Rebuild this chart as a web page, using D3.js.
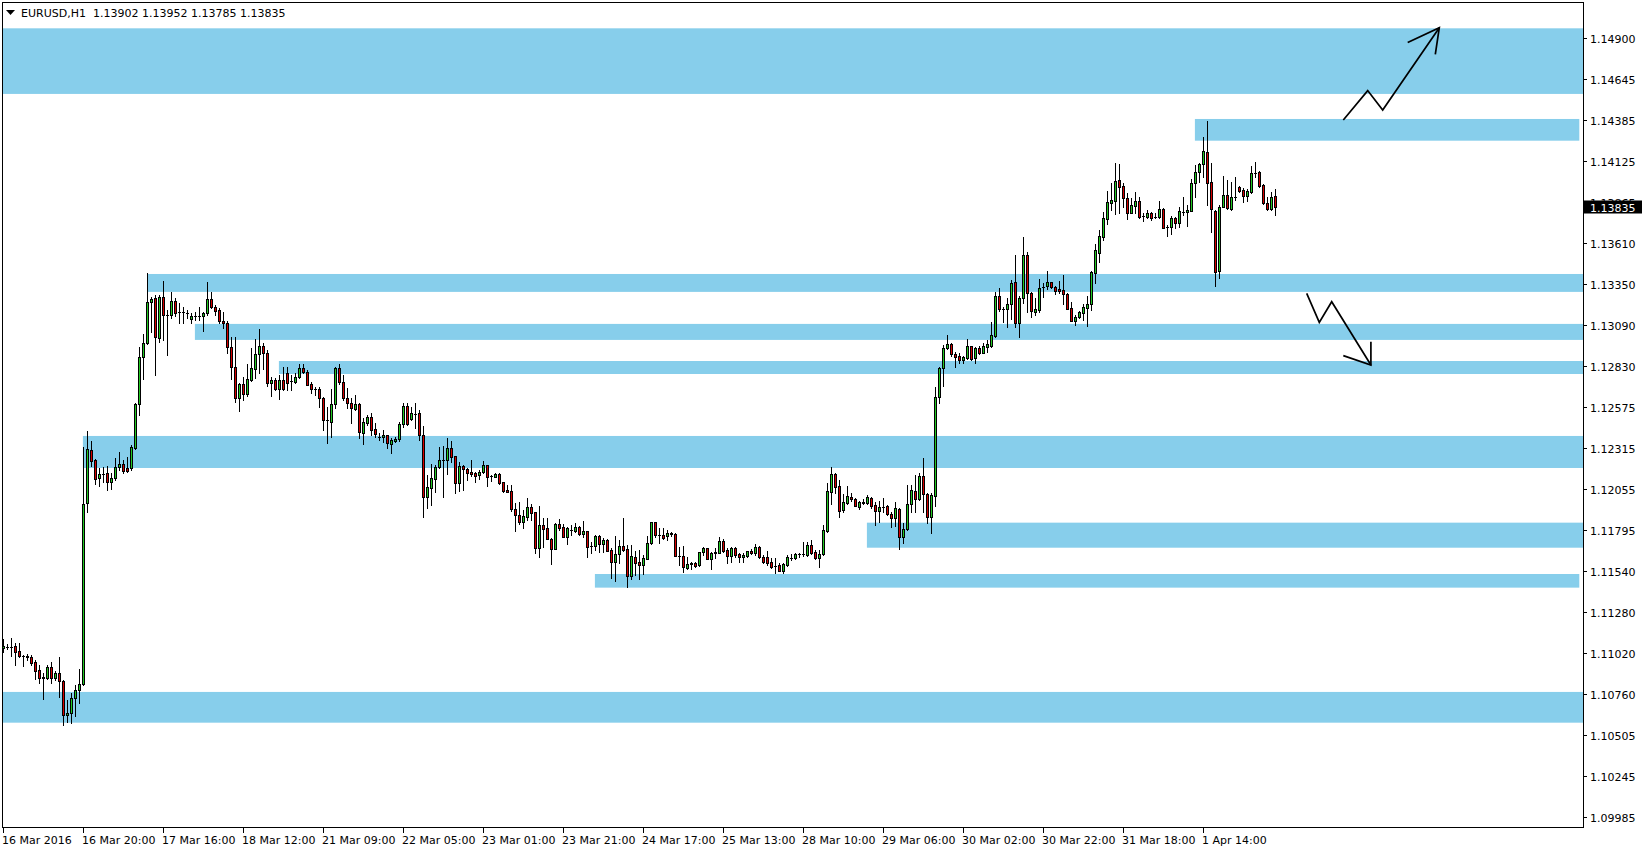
<!DOCTYPE html>
<html>
<head>
<meta charset="utf-8">
<script src="https://cdnjs.cloudflare.com/ajax/libs/d3/7.8.5/d3.min.js"></script>
<style>
  body { margin: 0; background: #ffffff; }
  svg text { font-family: "DejaVu Sans", sans-serif; font-size: 11px; }
</style>
</head>
<body>
<div id="chart"></div>
<script>
// EURUSD H1, 16 Mar - 1 Apr 2016, one entry per hourly bar
var symbol = "EURUSD,H1";

var opens = [
  1.11051,1.11062,1.11062,1.11066,1.11034,1.11005,1.11005,1.10998,1.10963,1.10914,
  1.10870,1.10866,1.10935,1.10866,1.10893,1.10845,1.10628,1.10641,1.10736,1.10788,
  1.10826,1.11966,1.12303,1.12239,1.12124,1.12151,1.12155,1.12098,1.12124,1.12197,
  1.12212,1.12187,1.12187,1.12317,1.12591,1.12887,1.12976,1.13234,1.13260,1.13007,
  1.13270,1.13152,1.13152,1.13245,1.13175,1.13175,1.13169,1.13131,1.13148,1.13148,
  1.13148,1.13165,1.13253,1.13203,1.13186,1.13116,1.13102,1.12950,1.12824,1.12629,
  1.12717,1.12654,1.12746,1.12811,1.12906,1.12961,1.12912,1.12723,1.12742,1.12685,
  1.12742,1.12786,1.12738,1.12734,1.12761,1.12818,1.12797,1.12717,1.12685,1.12685,
  1.12633,1.12492,1.12481,1.12591,1.12818,1.12729,1.12629,1.12597,1.12563,1.12591,
  1.12412,1.12475,1.12509,1.12433,1.12387,1.12382,1.12395,1.12340,1.12361,1.12370,
  1.12467,1.12582,1.12498,1.12530,1.12534,1.12397,1.12008,1.12061,1.12117,1.12193,
  1.12239,1.12239,1.12313,1.12262,1.12092,1.12202,1.12183,1.12162,1.12155,1.12147,
  1.12162,1.12206,1.12138,1.12134,1.12149,1.12101,1.12050,1.12044,1.11930,1.11892,
  1.11850,1.11882,1.11941,1.11909,1.11686,1.11829,1.11808,1.11743,1.11680,1.11833,
  1.11815,1.11756,1.11798,1.11793,1.11815,1.11770,1.11791,1.11699,1.11699,1.11760,
  1.11707,1.11735,1.11671,1.11598,1.11644,1.11697,1.11676,1.11510,1.11625,1.11596,
  1.11579,1.11617,1.11714,1.11846,1.11764,1.11764,1.11762,1.11772,1.11772,1.11636,
  1.11636,1.11560,1.11581,1.11589,1.11575,1.11659,1.11682,1.11617,1.11650,1.11655,
  1.11726,1.11671,1.11636,1.11684,1.11646,1.11625,1.11634,1.11665,1.11650,1.11688,
  1.11629,1.11625,1.11594,1.11573,1.11577,1.11541,1.11577,1.11623,1.11619,1.11646,
  1.11646,1.11640,1.11701,1.11659,1.11619,1.11644,1.11794,1.12035,1.12149,1.12075,
  1.11924,1.11970,1.12006,1.11991,1.11941,1.11966,1.11966,1.12002,1.11955,1.11920,
  1.11945,1.11949,1.11901,1.11871,1.11928,1.11756,1.11802,1.11960,1.12044,1.11995,
  1.12138,1.12023,1.11878,1.12014,1.12639,1.12818,1.12944,1.12969,1.12906,1.12896,
  1.12870,1.12881,1.12957,1.12881,1.12946,1.12917,1.12955,1.12961,1.13024,1.13274,
  1.13194,1.13192,1.13222,1.13363,1.13106,1.13260,1.13533,1.13293,1.13175,1.13186,
  1.13333,1.13339,1.13363,1.13331,1.13316,1.13310,1.13287,1.13196,1.13119,1.13140,
  1.13165,1.13201,1.13222,1.13421,1.13548,1.13649,1.13760,1.13859,1.13876,1.14006,
  1.13968,1.13891,1.13800,1.13844,1.13874,1.13781,1.13775,1.13796,1.13775,1.13775,
  1.13821,1.13712,1.13712,1.13764,1.13733,1.13806,1.13802,1.13813,1.13989,1.14059,
  1.14105,1.14181,1.13992,1.13811,1.13434,1.13838,1.13912,1.13823,1.13897,1.13960,
  1.13943,1.13907,1.13933,1.14052,1.14055,1.13972,1.13859,1.13821,1.13902
];

var highs = [
  1.11108,1.11076,1.11114,1.11083,1.11087,1.11009,1.11013,1.11009,1.10977,1.10946,
  1.10893,1.10946,1.10967,1.10910,1.10994,1.10851,1.10725,1.10767,1.10820,1.10921,
  1.12324,1.12422,1.12359,1.12244,1.12187,1.12197,1.12202,1.12155,1.12250,1.12292,
  1.12239,1.12260,1.12334,1.12597,1.12955,1.13034,1.13417,1.13270,1.13280,1.13280,
  1.13369,1.13186,1.13302,1.13260,1.13228,1.13203,1.13186,1.13169,1.13175,1.13203,
  1.13175,1.13363,1.13300,1.13217,1.13196,1.13175,1.13119,1.13013,1.13013,1.12723,
  1.12765,1.12845,1.12944,1.13001,1.13064,1.12976,1.12934,1.12765,1.12755,1.12776,
  1.12828,1.12824,1.12776,1.12786,1.12843,1.12843,1.12807,1.12734,1.12698,1.12698,
  1.12639,1.12576,1.12685,1.12828,1.12845,1.12776,1.12692,1.12629,1.12650,1.12597,
  1.12502,1.12523,1.12534,1.12471,1.12408,1.12429,1.12397,1.12376,1.12387,1.12477,
  1.12597,1.12597,1.12576,1.12597,1.12555,1.12454,1.12145,1.12214,1.12208,1.12324,
  1.12328,1.12376,1.12359,1.12267,1.12225,1.12208,1.12187,1.12239,1.12166,1.12176,
  1.12233,1.12208,1.12145,1.12160,1.12155,1.12103,1.12082,1.12082,1.11966,1.11976,
  1.11924,1.11997,1.11962,1.11913,1.11949,1.11871,1.11871,1.11745,1.11840,1.11865,
  1.11836,1.11819,1.11829,1.11844,1.11823,1.11855,1.11794,1.11724,1.11766,1.11766,
  1.11745,1.11739,1.11682,1.11760,1.11735,1.11871,1.11703,1.11703,1.11667,1.11672,
  1.11640,1.11760,1.11850,1.11850,1.11808,1.11808,1.11798,1.11787,1.11777,1.11693,
  1.11699,1.11629,1.11596,1.11598,1.11661,1.11693,1.11686,1.11661,1.11682,1.11756,
  1.11739,1.11684,1.11693,1.11693,1.11655,1.11655,1.11667,1.11680,1.11709,1.11697,
  1.11640,1.11667,1.11619,1.11619,1.11592,1.11587,1.11640,1.11646,1.11655,1.11655,
  1.11720,1.11724,1.11735,1.11672,1.11672,1.11829,1.12092,1.12193,1.12159,1.12113,
  1.12023,1.12075,1.12029,1.11998,1.11983,1.11991,1.12016,1.12008,1.11976,1.11983,
  1.11998,1.11955,1.11913,1.11976,1.11934,1.11840,1.12082,1.12082,1.12145,1.12155,
  1.12250,1.12029,1.12029,1.12702,1.12828,1.12965,1.13028,1.12975,1.12923,1.12912,
  1.12896,1.13003,1.12961,1.12950,1.12961,1.12975,1.12997,1.13112,1.13300,1.13323,
  1.13207,1.13260,1.13375,1.13533,1.13274,1.13649,1.13550,1.13302,1.13260,1.13379,
  1.13354,1.13430,1.13365,1.13339,1.13369,1.13407,1.13291,1.13238,1.13154,1.13177,
  1.13224,1.13274,1.13434,1.13602,1.13691,1.13806,1.13939,1.13985,1.14111,1.14107,
  1.13985,1.13926,1.13891,1.13933,1.13901,1.13796,1.13817,1.13806,1.13796,1.13874,
  1.13827,1.13722,1.13779,1.13775,1.13838,1.13901,1.13848,1.14010,1.14101,1.14111,
  1.14280,1.14378,1.14111,1.13817,1.13848,1.14031,1.14006,1.13996,1.14027,1.13968,
  1.13954,1.13947,1.14095,1.14120,1.14063,1.13981,1.13897,1.13931,1.13952
];

var lows = [
  1.11030,1.11047,1.11003,1.10946,1.10998,1.10940,1.10977,1.10946,1.10855,1.10830,
  1.10734,1.10855,1.10830,1.10851,1.10746,1.10569,1.10588,1.10578,1.10624,1.10704,
  1.10820,1.11913,1.12202,1.12088,1.12075,1.12103,1.12050,1.12054,1.12113,1.12176,
  1.12155,1.12166,1.12176,1.12307,1.12523,1.12753,1.12971,1.13049,1.12776,1.12986,
  1.12997,1.12902,1.13138,1.13148,1.13102,1.13106,1.13133,1.13102,1.13123,1.13123,
  1.13056,1.13154,1.13196,1.13154,1.13102,1.13070,1.12912,1.12748,1.12607,1.12551,
  1.12618,1.12643,1.12740,1.12755,1.12790,1.12811,1.12706,1.12645,1.12681,1.12622,
  1.12681,1.12681,1.12681,1.12727,1.12755,1.12790,1.12713,1.12664,1.12650,1.12572,
  1.12429,1.12345,1.12387,1.12565,1.12717,1.12618,1.12565,1.12471,1.12555,1.12376,
  1.12338,1.12460,1.12397,1.12387,1.12366,1.12355,1.12317,1.12286,1.12355,1.12361,
  1.12450,1.12460,1.12492,1.12439,1.12366,1.11878,1.11934,1.11955,1.12040,1.12187,
  1.12008,1.12151,1.12229,1.12033,1.12046,1.12050,1.12113,1.12138,1.12103,1.12117,
  1.12155,1.12075,1.12109,1.12130,1.12088,1.12040,1.12040,1.11920,1.11793,1.11836,
  1.11808,1.11861,1.11861,1.11650,1.11625,1.11693,1.11739,1.11583,1.11678,1.11798,
  1.11751,1.11709,1.11766,1.11787,1.11766,1.11756,1.11625,1.11655,1.11672,1.11661,
  1.11661,1.11665,1.11493,1.11478,1.11592,1.11667,1.11436,1.11486,1.11514,1.11489,
  1.11520,1.11613,1.11709,1.11756,1.11714,1.11743,1.11735,1.11762,1.11634,1.11577,
  1.11533,1.11550,1.11554,1.11566,1.11573,1.11640,1.11613,1.11550,1.11623,1.11650,
  1.11661,1.11592,1.11598,1.11629,1.11594,1.11598,1.11629,1.11646,1.11640,1.11619,
  1.11592,1.11577,1.11556,1.11524,1.11537,1.11524,1.11571,1.11608,1.11613,1.11629,
  1.11634,1.11634,1.11646,1.11615,1.11566,1.11640,1.11787,1.11962,1.12033,1.11882,
  1.11913,1.11962,1.11983,1.11949,1.11928,1.11962,1.11962,1.11934,1.11829,1.11850,
  1.11913,1.11892,1.11819,1.11823,1.11680,1.11714,1.11798,1.11913,1.11913,1.11987,
  1.11913,1.11844,1.11781,1.11949,1.12597,1.12706,1.12938,1.12898,1.12828,1.12849,
  1.12849,1.12875,1.12870,1.12854,1.12908,1.12912,1.12923,1.12955,1.13018,1.13182,
  1.13112,1.13081,1.13127,1.13081,1.13018,1.13232,1.13175,1.13144,1.13152,1.13173,
  1.13270,1.13316,1.13323,1.13285,1.13295,1.13224,1.13190,1.13117,1.13091,1.13133,
  1.13123,1.13087,1.13186,1.13358,1.13491,1.13628,1.13729,1.13817,1.13792,1.13796,
  1.13838,1.13760,1.13796,1.13800,1.13764,1.13750,1.13764,1.13754,1.13764,1.13764,
  1.13701,1.13653,1.13665,1.13705,1.13712,1.13785,1.13716,1.13811,1.13901,1.13996,
  1.14027,1.13848,1.13680,1.13339,1.13386,1.13834,1.13823,1.13817,1.13880,1.13933,
  1.13869,1.13876,1.13926,1.14027,1.13964,1.13855,1.13817,1.13817,1.13785
];

var closes = [
  1.11066,1.11062,1.11062,1.11030,1.11003,1.11005,1.10994,1.10956,1.10910,1.10862,
  1.10862,1.10935,1.10866,1.10893,1.10845,1.10628,1.10641,1.10736,1.10788,1.10826,
  1.11960,1.12307,1.12233,1.12117,1.12149,1.12151,1.12098,1.12124,1.12197,1.12212,
  1.12172,1.12172,1.12324,1.12591,1.12887,1.12980,1.13234,1.13257,1.13013,1.13270,
  1.13152,1.13152,1.13245,1.13169,1.13175,1.13175,1.13169,1.13148,1.13148,1.13148,
  1.13165,1.13253,1.13203,1.13182,1.13119,1.13102,1.12950,1.12824,1.12629,1.12717,
  1.12654,1.12750,1.12818,1.12906,1.12961,1.12917,1.12723,1.12742,1.12685,1.12742,
  1.12690,1.12727,1.12738,1.12765,1.12818,1.12797,1.12713,1.12685,1.12685,1.12633,
  1.12492,1.12492,1.12591,1.12822,1.12734,1.12629,1.12601,1.12565,1.12591,1.12418,
  1.12477,1.12509,1.12429,1.12401,1.12387,1.12397,1.12345,1.12366,1.12370,1.12467,
  1.12582,1.12467,1.12534,1.12530,1.12397,1.12008,1.12067,1.12124,1.12193,1.12239,
  1.12239,1.12313,1.12260,1.12092,1.12202,1.12181,1.12155,1.12149,1.12141,1.12162,
  1.12208,1.12134,1.12138,1.12149,1.12096,1.12046,1.12040,1.11928,1.11892,1.11850,
  1.11886,1.11941,1.11907,1.11686,1.11829,1.11804,1.11741,1.11680,1.11833,1.11812,
  1.11756,1.11808,1.11798,1.11815,1.11770,1.11791,1.11693,1.11699,1.11760,1.11707,
  1.11735,1.11667,1.11598,1.11646,1.11697,1.11672,1.11510,1.11634,1.11592,1.11579,
  1.11619,1.11714,1.11846,1.11764,1.11764,1.11749,1.11777,1.11777,1.11636,1.11636,
  1.11566,1.11581,1.11587,1.11571,1.11659,1.11682,1.11617,1.11653,1.11657,1.11726,
  1.11667,1.11636,1.11684,1.11640,1.11625,1.11640,1.11663,1.11650,1.11693,1.11625,
  1.11596,1.11592,1.11566,1.11573,1.11541,1.11581,1.11625,1.11623,1.11646,1.11646,
  1.11646,1.11701,1.11655,1.11619,1.11646,1.11796,1.12044,1.12149,1.12071,1.11920,
  1.11972,1.12012,1.11991,1.11951,1.11972,1.11976,1.12006,1.11951,1.11920,1.11943,
  1.11945,1.11899,1.11871,1.11934,1.11756,1.11802,1.11960,1.12050,1.11995,1.12138,
  1.12023,1.11882,1.12019,1.12635,1.12818,1.12944,1.12971,1.12906,1.12891,1.12870,
  1.12889,1.12957,1.12879,1.12944,1.12917,1.12959,1.12971,1.13028,1.13274,1.13190,
  1.13194,1.13222,1.13358,1.13106,1.13260,1.13533,1.13291,1.13182,1.13192,1.13323,
  1.13333,1.13360,1.13329,1.13308,1.13308,1.13285,1.13194,1.13119,1.13140,1.13173,
  1.13203,1.13224,1.13424,1.13565,1.13653,1.13764,1.13865,1.13880,1.14000,1.13964,
  1.13891,1.13800,1.13848,1.13874,1.13775,1.13781,1.13796,1.13769,1.13775,1.13821,
  1.13705,1.13712,1.13764,1.13733,1.13811,1.13806,1.13817,1.13985,1.14059,1.14105,
  1.14189,1.13989,1.13821,1.13428,1.13838,1.13912,1.13827,1.13897,1.13897,1.13939,
  1.13907,1.13937,1.14048,1.14052,1.13970,1.13859,1.13821,1.13897,1.13835
];

// time axis: label text and the bar it sits on
var timeLabels = ["16 Mar 2016", "16 Mar 20:00", "17 Mar 16:00", "18 Mar 12:00", "21 Mar 09:00",
  "22 Mar 05:00", "23 Mar 01:00", "23 Mar 21:00", "24 Mar 17:00", "25 Mar 13:00", "28 Mar 10:00",
  "29 Mar 06:00", "30 Mar 02:00", "30 Mar 22:00", "31 Mar 18:00", "1 Apr 14:00"];
var timeLabelBars = [0, 20, 40, 60, 80, 100, 120, 140, 160, 180, 200, 220, 240, 260, 280, 300];

// price scale ticks
var priceTicks = [1.14900, 1.14645, 1.14385, 1.14125, 1.13865, 1.13610, 1.13350, 1.13090, 1.12830,
  1.12575, 1.12315, 1.12055, 1.11795, 1.11540, 1.11280, 1.11020, 1.10760, 1.10505, 1.10245, 1.09985];

// supply / demand zones (bar index from..to, price high..low)
var zoneFrom = [-0.2, 297.9, 36.1, 47.9, 68.9, 19.9, 215.9, 147.9, -0.2];
var zoneTo   = [395, 394, 395, 395, 395, 395, 395, 394, 395];
var zoneHigh = [1.14963, 1.14391, 1.13413, 1.13098, 1.12864, 1.12391, 1.11844, 1.11520, 1.10776];
var zoneLow  = [1.14549, 1.14254, 1.13300, 1.12997, 1.12782, 1.12189, 1.11686, 1.11434, 1.10582];

// hand drawn scenario arrows
var upArrowBars   = [335.0, 341.1, 344.85, 359.0];
var upArrowPrices = [1.14385, 1.14570, 1.14448, 1.14967];
var upHeadBars    = [351.1, 359.0, 358.0];
var upHeadPrices  = [1.14873, 1.14967, 1.14799];
var downArrowBars   = [325.85, 329.0, 332.1, 341.9];
var downArrowPrices = [1.13291, 1.13108, 1.13238, 1.12839];
var downHeadBars    = [335.0, 341.9, 341.9];
var downHeadPrices  = [1.12898, 1.12839, 1.12986];

var w = 1643, h = 852;
var bullColor = "#22c822", bearColor = "#d40000", zoneColor = "#87ceeb";

var svg = d3.select("#chart")
  .append("svg")
  .attr("width", w)
  .attr("height", h)
  .style("display", "block");

var x = d3.scaleLinear().domain([0, 395]).range([3.3, 1583.3]);
var y = d3.scaleLinear().domain([1.09985, 1.14900]).range([817.3, 38.3]);

function col(i) { return Math.floor(x(i)); }
function row(p) { return Math.round(y(p)); }

var bars = d3.range(opens.length).map(function (i) {
  return { i: i, o: opens[i], h: highs[i], l: lows[i], c: closes[i] };
});

// zones
svg.append("g")
  .selectAll("rect")
  .data(d3.range(zoneFrom.length))
  .join("rect")
  .attr("x", function (k) { return x(zoneFrom[k]); })
  .attr("width", function (k) { return x(zoneTo[k]) - x(zoneFrom[k]); })
  .attr("y", function (k) { return y(zoneHigh[k]); })
  .attr("height", function (k) { return y(zoneLow[k]) - y(zoneHigh[k]); })
  .attr("fill", zoneColor);

// candles
var candles = svg.append("g").attr("shape-rendering", "crispEdges");

candles.selectAll("line.wick")
  .data(bars)
  .join("line")
  .attr("class", "wick")
  .attr("x1", function (d) { return col(d.i) + 0.5; })
  .attr("x2", function (d) { return col(d.i) + 0.5; })
  .attr("y1", function (d) { return row(d.h); })
  .attr("y2", function (d) { return row(d.l) + 1; })
  .attr("stroke", "#000")
  .attr("stroke-width", 1);

candles.selectAll("rect.body")
  .data(bars.filter(function (d) { return row(Math.min(d.o, d.c)) - row(Math.max(d.o, d.c)) >= 1; }))
  .join("rect")
  .attr("class", "body")
  .attr("x", function (d) { return col(d.i) - 0.5; })
  .attr("y", function (d) { return row(Math.max(d.o, d.c)) + 0.5; })
  .attr("width", 2)
  .attr("height", function (d) { return row(Math.min(d.o, d.c)) - row(Math.max(d.o, d.c)); })
  .attr("fill", function (d) { return d.c >= d.o ? bullColor : bearColor; })
  .attr("stroke", "#000")
  .attr("stroke-width", 1);

candles.selectAll("line.doji")
  .data(bars.filter(function (d) { return row(Math.min(d.o, d.c)) - row(Math.max(d.o, d.c)) < 1; }))
  .join("line")
  .attr("class", "doji")
  .attr("x1", function (d) { return col(d.i) - 1; })
  .attr("x2", function (d) { return col(d.i) + 2; })
  .attr("y1", function (d) { return row(d.o) + 0.5; })
  .attr("y2", function (d) { return row(d.o) + 0.5; })
  .attr("stroke", "#000")
  .attr("stroke-width", 1);

// arrows
var arrowLine = d3.line()
  .x(function (d) { return x(d[0]); })
  .y(function (d) { return y(d[1]); });

var arrows = [
  d3.zip(upArrowBars, upArrowPrices),
  d3.zip(upHeadBars, upHeadPrices),
  d3.zip(downArrowBars, downArrowPrices),
  d3.zip(downHeadBars, downHeadPrices)
];

svg.append("g")
  .selectAll("path")
  .data(arrows)
  .join("path")
  .attr("d", arrowLine)
  .attr("fill", "none")
  .attr("stroke", "#000")
  .attr("stroke-width", 1.7)
  .attr("stroke-linejoin", "miter");

// frame
var frame = svg.append("g").attr("shape-rendering", "crispEdges");
frame.append("rect")
  .attr("x", 2.5)
  .attr("y", 2.5)
  .attr("width", x(395) - 2.5 + 0.2)
  .attr("height", 825)
  .attr("fill", "none")
  .attr("stroke", "#000");

// price axis
var axisX = Math.round(x(395));
var pAxis = svg.append("g");
pAxis.selectAll("line")
  .data(priceTicks)
  .join("line")
  .attr("shape-rendering", "crispEdges")
  .attr("x1", axisX)
  .attr("x2", axisX + 4)
  .attr("y1", function (d) { return row(d) + 0.5; })
  .attr("y2", function (d) { return row(d) + 0.5; })
  .attr("stroke", "#000");

pAxis.selectAll("text")
  .data(priceTicks)
  .join("text")
  .attr("x", axisX + 7)
  .attr("y", function (d) { return row(d) + 5; })
  .attr("fill", "#000")
  .text(function (d) { return d.toFixed(5); });

// current price marker (covers the tick label under it, as in the terminal)
var last = closes[closes.length - 1];
svg.append("rect")
  .attr("x", axisX + 1)
  .attr("y", row(last) - 6.5)
  .attr("width", 58)
  .attr("height", 13)
  .attr("fill", "#000");
svg.append("text")
  .attr("x", axisX + 7)
  .attr("y", row(last) + 4.5)
  .attr("fill", "#fff")
  .text(last.toFixed(5));

// time axis
var tAxis = svg.append("g");
tAxis.selectAll("line")
  .data(timeLabelBars)
  .join("line")
  .attr("shape-rendering", "crispEdges")
  .attr("x1", function (d) { return col(d) + 0.5; })
  .attr("x2", function (d) { return col(d) + 0.5; })
  .attr("y1", 828)
  .attr("y2", 833)
  .attr("stroke", "#000");

tAxis.selectAll("text")
  .data(timeLabelBars)
  .join("text")
  .attr("x", function (d) { return col(d) - 1; })
  .attr("y", 844)
  .attr("fill", "#000")
  .text(function (d, k) { return timeLabels[k]; });

// header
var n = opens.length - 1;
svg.append("path")
  .attr("d", "M6,10 L15,10 L10.5,15 Z")
  .attr("fill", "#000");
svg.append("text")
  .attr("x", 21)
  .attr("y", 17)
  .attr("fill", "#000")
  .text(symbol);
svg.append("text")
  .attr("x", 93)
  .attr("y", 17)
  .attr("fill", "#000")
  .text([opens[n], highs[n], lows[n], closes[n]].map(function (v) { return v.toFixed(5); }).join(" "));
</script>
</body>
</html>
